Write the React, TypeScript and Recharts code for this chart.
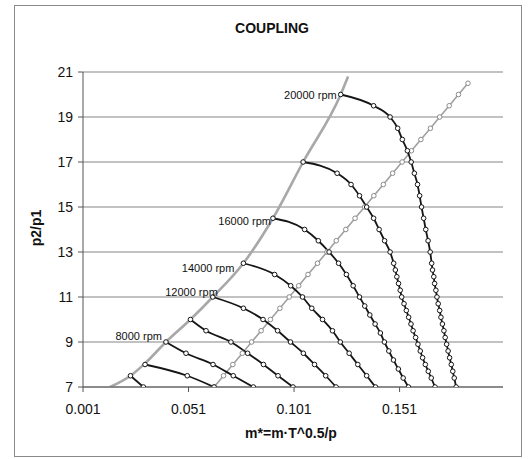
import React from 'react';
import { LineChart, Line, XAxis, YAxis, CartesianGrid } from 'recharts';

// ---- data (x = m* , y = p2/p1) ----
const xTicks = [0.001, 0.051, 0.101, 0.151];
const yTicks = [7, 9, 11, 13, 15, 17, 19, 21];

const surgeLine: number[][] = [
  [0.0138, 7.0], [0.0235, 7.5], [0.0304, 8.05], [0.0403, 9.0], [0.0519, 10.0], [0.0625, 11.0],
  [0.0770, 12.5], [0.0910, 14.5], [0.1053, 17.0], [0.1231, 20.0], [0.1266, 20.8],
];

const operatingLine: number[][] = [
  [0.0631, 7.0], [0.0676, 7.5], [0.0720, 8.0], [0.0765, 8.5], [0.0809, 9.0], [0.0854, 9.5],
  [0.0898, 10.0], [0.0943, 10.5], [0.0987, 11.0], [0.1032, 11.5], [0.1076, 12.0], [0.1121, 12.5],
  [0.1166, 13.0], [0.1210, 13.5], [0.1255, 14.0], [0.1299, 14.5], [0.1344, 15.0], [0.1388, 15.5],
  [0.1433, 16.0], [0.1477, 16.5], [0.1522, 17.0], [0.1566, 17.5], [0.1611, 18.0], [0.1656, 18.5],
  [0.1700, 19.0], [0.1745, 19.5], [0.1789, 20.0], [0.1834, 20.5],
];

const rpm4000: number[][] = [[0.0235, 7.5], [0.0296, 7.0]];
const rpm6000: number[][] = [[0.0304, 8.0], [0.0504, 7.5], [0.0631, 7.0]];
const rpm8000: number[][] = [[0.0403, 9.0], [0.0498, 8.5], [0.0626, 8.0], [0.0722, 7.5], [0.0817, 7.0]];
const rpm10000: number[][] = [
  [0.0519, 10.0], [0.0593, 9.5], [0.0711, 9.0], [0.0790, 8.5], [0.0865, 8.0], [0.0934, 7.5], [0.1005, 7.0],
];
const rpm12000: number[][] = [
  [0.0625, 11.0], [0.0770, 10.5], [0.0863, 10.0], [0.0932, 9.5], [0.0993, 9.0], [0.1054, 8.5],
  [0.1107, 8.0], [0.1160, 7.5], [0.1209, 7.0],
];
const rpm14000: number[][] = [
  [0.0770, 12.5], [0.0918, 12.0], [0.0994, 11.5], [0.1050, 11.0], [0.1094, 10.5], [0.1145, 10.0],
  [0.1192, 9.5], [0.1229, 9.0], [0.1271, 8.5], [0.1312, 8.0], [0.1354, 7.5], [0.1396, 7.0],
];
const rpm16000: number[][] = [
  [0.0910, 14.5], [0.1060, 14.0], [0.1125, 13.5], [0.1176, 13.0], [0.1221, 12.5], [0.1258, 12.0],
  [0.1290, 11.5], [0.1320, 11.0], [0.1345, 10.6], [0.1369, 10.2], [0.1394, 9.8], [0.1419, 9.4],
  [0.1438, 9.0], [0.1459, 8.6], [0.1481, 8.2], [0.1504, 7.8], [0.1527, 7.4], [0.1552, 7.0],
];
const rpm18000: number[][] = [
  [0.1053, 17.0], [0.1214, 16.5], [0.1280, 16.0], [0.1320, 15.5], [0.1354, 15.0], [0.1387, 14.5],
  [0.1413, 14.0], [0.1439, 13.5], [0.1465, 13.0], [0.1482, 12.5], [0.1490, 12.2], [0.1497, 11.9],
  [0.1505, 11.6], [0.1513, 11.3], [0.1520, 11.0], [0.1531, 10.7], [0.1542, 10.4], [0.1553, 10.1],
  [0.1564, 9.8], [0.1574, 9.5], [0.1586, 9.2], [0.1597, 8.9], [0.1608, 8.6], [0.1619, 8.3],
  [0.1632, 8.0], [0.1646, 7.7], [0.1660, 7.4], [0.1678, 7.0],
];
const rpm20000: number[][] = [
  [0.1231, 20.0], [0.1387, 19.5], [0.1465, 19.0], [0.1501, 18.5], [0.1523, 18.0], [0.1547, 17.5],
  [0.1565, 17.0], [0.1580, 16.5], [0.1595, 16.0], [0.1605, 15.5], [0.1614, 15.0], [0.1624, 14.5],
  [0.1634, 14.0], [0.1645, 13.5], [0.1655, 13.0], [0.1662, 12.5], [0.1666, 12.2], [0.1672, 11.9],
  [0.1676, 11.6], [0.1682, 11.3], [0.1687, 11.0], [0.1693, 10.7], [0.1700, 10.4], [0.1706, 10.1],
  [0.1713, 9.8], [0.1720, 9.5], [0.1726, 9.2], [0.1733, 8.9], [0.1740, 8.6], [0.1747, 8.3],
  [0.1755, 8.0], [0.1762, 7.7], [0.1769, 7.4], [0.1778, 7.0],
];

const speedSeries = [
  { name: '4000 rpm', data: rpm4000, showLabel: false },
  { name: '6000 rpm', data: rpm6000, showLabel: false },
  { name: '8000 rpm', data: rpm8000, showLabel: true },
  { name: '10000 rpm', data: rpm10000, showLabel: false },
  { name: '12000 rpm', data: rpm12000, showLabel: true },
  { name: '14000 rpm', data: rpm14000, showLabel: true },
  { name: '16000 rpm', data: rpm16000, showLabel: true },
  { name: '18000 rpm', data: rpm18000, showLabel: false },
  { name: '20000 rpm', data: rpm20000, showLabel: true },
];

// label offsets (styling only)
const labelOffset: Record<string, { dx: number; dy: number }> = {
  '8000 rpm': { dx: -4, dy: -6 },
  '12000 rpm': { dx: 5, dy: -5 },
  '14000 rpm': { dx: -9, dy: 5 },
  '16000 rpm': { dx: -2, dy: 3 },
  '20000 rpm': { dx: -4, dy: 0 },
};

const FONT = '"Liberation Sans", Arial, sans-serif';
const toPts = (a: number[][]) => a.map(([x, y]) => ({ x, y }));

const makeDot = (stroke: string, label?: string) => (props: any) => {
  const { cx, cy, index } = props;
  const off = label ? labelOffset[label] : undefined;
  return (
    <g key={`dot-${label || stroke}-${index}`}>
      <circle cx={cx} cy={cy} r={2.3} fill="#fff" stroke={stroke} strokeWidth={1} />
      {label && off && index === 0 ? (
        <text
          x={cx + off.dx}
          y={cy + off.dy}
          textAnchor="end"
          dominantBaseline="central"
          fontSize={11}
          fontFamily={FONT}
          fill="#111"
        >
          {label}
        </text>
      ) : null}
    </g>
  );
};

export default function App() {
  return (
    <div style={{ position: 'absolute', left: 0, top: 0, width: 529, height: 459, background: '#fff' }}>
      <LineChart width={529} height={459} margin={{ top: 72, right: 26, bottom: 22, left: 23 }}>
        <CartesianGrid vertical={false} stroke="#858585" strokeWidth={1} />
        <XAxis
          type="number"
          dataKey="x"
          domain={[0.001, 0.2]}
          ticks={xTicks}
          allowDataOverflow
          interval={0}
          height={50}
          tickFormatter={(v: number) => v.toFixed(3)}
          tick={{ fontSize: 14, fill: '#111', fontFamily: FONT }}
          tickSize={5}
          tickMargin={12}
          axisLine={{ stroke: '#555' }}
          tickLine={{ stroke: '#555' }}
        />
        <YAxis
          type="number"
          dataKey="y"
          domain={[7, 21]}
          ticks={yTicks}
          allowDataOverflow
          interval={0}
          width={60}
          tick={{ fontSize: 14, fill: '#111', fontFamily: FONT }}
          tickSize={5}
          tickMargin={5}
          axisLine={{ stroke: '#555' }}
          tickLine={{ stroke: '#555' }}
        />
        <Line
          data={toPts(surgeLine)}
          dataKey="y"
          type="monotone"
          stroke="#a8a8a8"
          strokeWidth={2.6}
          dot={false}
          activeDot={false}
          isAnimationActive={false}
        />
        <Line
          data={toPts(operatingLine)}
          dataKey="y"
          type="linear"
          stroke="#a0a0a0"
          strokeWidth={1.6}
          dot={makeDot('#8c8c8c')}
          activeDot={false}
          isAnimationActive={false}
        />
        {speedSeries.map((s) => (
          <Line
            key={s.name}
            data={toPts(s.data)}
            dataKey="y"
            type="monotone"
            stroke="#151515"
            strokeWidth={1.8}
            dot={makeDot('#151515', s.showLabel ? s.name : undefined)}
            activeDot={false}
            isAnimationActive={false}
          />
        ))}
      </LineChart>
      <svg
        width={529}
        height={459}
        style={{ position: 'absolute', left: 0, top: 0, pointerEvents: 'none' }}
      >
        <rect x={14.5} y={5.5} width={507} height={451} fill="none" stroke="#8a8a8a" strokeWidth={1} />
        <text x={272} y={28} textAnchor="middle" dominantBaseline="central" fontSize={14} fontWeight="bold" fontFamily={FONT} fill="#111">
          COUPLING
        </text>
        <text x={291} y={433} textAnchor="middle" dominantBaseline="central" fontSize={14} fontWeight="bold" fontFamily={FONT} fill="#111">
          m*=m·T^0.5/p
        </text>
        <text
          x={36}
          y={228}
          textAnchor="middle"
          dominantBaseline="central"
          fontSize={14}
          fontWeight="bold"
          fontFamily={FONT}
          fill="#111"
          transform="rotate(-90 36 228)"
        >
          p2/p1
        </text>
      </svg>
    </div>
  );
}
